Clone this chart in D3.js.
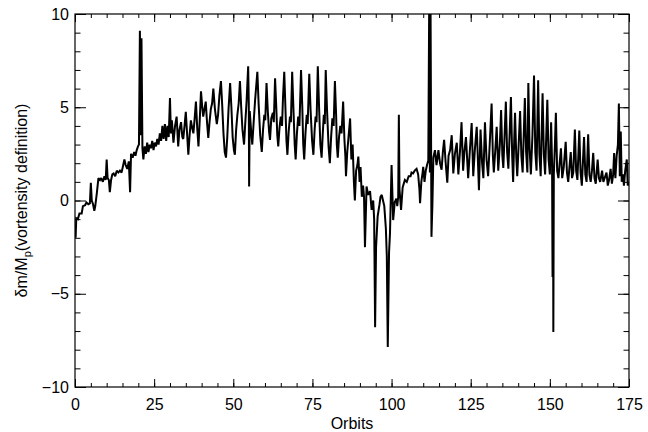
<!DOCTYPE html>
<html>
<head>
<meta charset="utf-8">
<script src="https://cdn.jsdelivr.net/npm/d3@7"></script>
<style>
  body { margin: 0; background: #fff; }
  text { font-family: "Liberation Sans", Arial, sans-serif; fill: #000; }
</style>
</head>
<body>
<svg id="chart" width="648" height="432"></svg>
<script>
// Data: [orbit, dm/Mp], split in pieces
var rampUp = [[0.2,-2.0],[0.4,-0.95],[0.9,-1.0],[1.4,-0.7],[2.1,-0.7],[2.5,-0.3],[3.2,-0.25],[3.6,-0.1],[4.2,-0.2],[4.7,-0.15],
  [5.0,0.95],[5.3,0.0],[5.7,-0.2],[6.1,-0.55],[6.4,-0.3],[6.9,0.4],[7.4,1.2],[7.9,1.1],[8.3,1.2],[8.8,1.0],[9.3,1.3],[9.7,1.1],
  [10.0,2.2],[10.3,1.2],[10.7,1.1],[11.0,0.45],[11.4,1.1],[11.8,1.4],[12.2,1.45],[12.7,1.3],[13.2,1.6],[13.7,1.5],[14.2,1.6],
  [14.7,1.5],[15.1,1.8],[15.6,2.2],[16.0,1.9],[16.5,1.7],[17.0,2.1],[17.4,0.45],[17.7,2.5],[18.2,2.3],[18.7,2.6],[19.1,2.4],
  [19.5,2.7],[19.9,2.9],[20.2,3.0],[20.5,9.1],[20.8,3.5],[21.0,8.7],[21.3,2.8],[21.6,2.2],[22.0,2.9],[22.4,2.5],[22.8,3.1],
  [23.2,2.6],[23.6,3.0],[24.0,2.8],[24.4,3.2],[24.8,2.7],[25.2,3.1],[25.6,2.9],[26.0,3.3],[26.4,3.0],[26.8,3.6],[27.2,3.2],
  [27.6,4.0],[28.0,3.3],[28.4,4.1],[28.8,3.2],[29.2,4.0],[29.6,3.4],[30.0,5.5],[30.3,3.6]];

var plateauA = [[30.6,4.3],[31.1,3.1],[31.6,4.0],[32.1,4.5],[32.6,2.9],[33.0,3.8],[33.5,4.2],[33.9,3.4],[34.2,3.3],[34.6,4.0],
  [35.0,4.75],[35.4,3.6],[35.8,2.45],[36.2,3.5],[36.6,4.3],[37.0,3.9],[37.4,3.6],[37.8,4.4],[38.2,5.3],[38.6,3.9],[39.0,2.9],
  [39.4,4.3],[39.8,5.85],[40.2,5.0],[40.5,4.5],[40.9,4.9],[41.3,5.3],[41.7,4.2],[42.1,3.35],[42.5,4.2],[42.9,4.9],[43.3,5.2],
  [43.7,6.0],[44.2,4.9],[44.8,4.1],[45.2,4.6],[45.6,5.6],[46.1,6.4],[46.5,5.1],[46.9,3.6],[47.3,2.6],[47.7,2.3],[48.1,3.4],
  [48.5,4.9],[49.0,6.3],[49.4,5.0],[49.8,3.4],[50.2,2.7],[50.5,2.45],[50.9,3.8],[51.3,4.6],[51.7,5.2],[52.1,6.4],[52.5,5.0],
  [52.9,3.8],[53.4,3.0],[53.8,4.2],[54.2,5.3],[54.7,7.2],[54.9,5.2],[55.0,0.75],[55.2,4.8],[55.6,3.8],[56.0,3.0],[56.4,4.1],
  [56.9,5.4],[57.6,6.9]];

var plateauB = [[58.0,5.2],[58.5,3.5],[59.0,2.6],[59.4,3.8],[59.8,4.6],[60.1,4.3],[60.5,6.3],[60.9,4.8],[61.3,3.7],[61.6,3.25],
  [62.0,4.4],[62.5,4.7],[62.8,4.2],[63.2,6.55],[63.6,4.9],[63.9,3.5],[64.2,2.9],[64.6,3.9],[65.0,4.5],[65.4,4.0],[65.7,5.5],
  [66.1,6.9],[66.5,4.8],[66.8,3.2],[67.1,2.45],[67.5,3.7],[67.9,4.5],[68.2,4.2],[68.6,6.9],[69.0,4.9],[69.4,3.0],[69.7,2.2],
  [70.1,3.6],[70.5,4.5],[70.9,4.0],[71.4,7.0],[71.8,5.0],[72.1,3.0],[72.4,2.2],[72.8,3.6],[73.2,4.6],[73.5,4.1],[74.0,6.8],
  [74.4,4.9],[74.9,3.2],[75.3,2.45],[75.7,3.8],[76.0,4.5],[76.3,4.2],[76.7,7.2],[77.1,5.0],[77.5,3.0],[77.9,2.3],[78.3,3.7],
  [78.6,4.6],[78.9,4.1],[79.2,7.0],[79.6,4.9],[80.1,2.9],[80.5,2.0],[80.9,3.4],[81.3,4.4],[81.7,4.0],[82.1,6.4],[82.5,4.5],
  [82.7,3.0],[83.0,2.3],[83.4,3.4],[83.8,4.0],[84.2,3.6],[84.7,5.3],[85.1,3.3],[85.4,2.4],[85.6,1.3],[86.0,2.6],[86.4,3.4],
  [86.9,4.4]];

var dipZone = [[87.3,2.2],[87.7,3.0],[88.1,1.0],[88.4,0.0],[88.8,1.6],[89.2,1.9],[89.5,2.35],[89.9,1.0],[90.2,1.8],[90.6,0.2],
  [91.0,0.8],[91.3,0.2],[91.6,-2.5],[92.1,0.75],[92.6,0.3],[93.2,0.5],[93.7,-0.5],[94.2,0.0],[94.5,-1.0],[94.8,-6.8],[95.1,-2.5],
  [95.6,-0.85],[96.2,-0.2],[96.5,0.2],[96.9,0.3],[97.3,0.0],[97.7,-0.3],[98.2,-1.5],[98.5,-3.0],[98.8,-7.85],[99.2,-2.8],
  [99.5,-1.75],[100.0,1.9],[100.5,-1.05],[101.0,-0.1],[101.5,0.1],[101.8,-0.3],[102.1,0.2],[102.3,4.6],[102.5,0.6],[103.0,-0.5],
  [103.5,0.7],[104.2,1.1],[104.8,1.0],[105.4,1.3],[106.0,1.3],[106.3,1.5],[106.8,1.45],[107.3,1.6],[107.9,1.7],[108.4,1.4],
  [108.8,0.6],[109.0,-0.15],[109.4,1.0],[109.8,1.5],[110.0,1.8],[110.4,1.0],[110.8,1.6],[111.2,1.9],[111.6,2.15],[111.9,11],
  [112.1,1.5],[112.3,11],[112.6,-1.95],[112.9,-0.2],[113.2,2.3]];

var secondHump = [[113.7,2.7],[114.2,1.9],[114.8,2.7],[115.3,2.0],[115.8,1.65],[116.2,2.6],[116.6,3.25],[117.1,2.0],[117.6,0.95],
  [118.0,2.4],[118.5,2.7],[119.0,3.5],[119.5,1.45],[120.0,2.5],[120.6,3.1],[121.1,1.4],[121.6,2.6],[122.1,4.2],[122.6,1.6],
  [123.0,2.6],[123.5,3.4],[124.2,1.2],[124.7,2.6],[125.3,4.15],[125.8,1.3],[126.3,2.7],[126.9,3.95],[127.6,0.55],[128.1,3.8],
  [128.6,2.0],[129.0,1.2],[129.5,4.2],[130.0,2.2],[130.5,1.3],[131.0,3.0],[131.6,5.2],[132.0,2.4],[132.3,1.5],[132.8,2.8],
  [133.2,3.95],[133.7,1.6],[134.2,3.0],[134.6,4.85],[135.0,2.4],[135.3,1.75],[135.7,3.5],[136.1,5.3],[136.5,2.6],[136.9,1.7],
  [137.3,3.6],[137.7,5.55],[138.1,2.4],[138.4,1.0],[138.7,3.0],[139.0,4.7],[139.4,2.3],[139.7,1.3],[140.2,3.2],[140.6,4.8],
  [141.0,2.4],[141.4,1.5],[141.8,3.8],[142.1,5.5],[142.5,2.6],[142.9,1.5],[143.2,6.3],[143.6,2.8],[144.0,1.4],[144.5,3.5],
  [145.0,6.7],[145.4,2.6],[145.8,1.6],[146.3,6.45],[146.7,2.5],[147.1,1.3],[147.7,5.75],[148.1,2.5],[148.5,1.4],[149.2,5.4],
  [149.6,2.2],[150.0,1.4],[150.4,4.2],[150.7,2.0],[150.85,-4.1],[151.0,1.6],[151.1,-7.05],[151.25,1.4],[151.6,3.0],[151.9,4.7],
  [152.3,1.6],[152.7,1.2]];

var tail = [[153.1,2.0],[153.5,2.8],[153.9,1.2],[154.4,1.8],[155.0,3.15],[155.4,1.5],[155.8,1.0],[156.2,1.8],[156.6,2.6],
  [157.0,1.2],[157.4,1.5],[157.9,3.8],[158.3,1.6],[158.7,1.1],[159.3,3.75],[159.7,1.5],[160.1,0.8],[160.8,3.4],[161.2,1.4],
  [161.6,1.0],[162.1,3.55],[162.5,1.4],[162.9,1.0],[163.3,1.6],[163.7,2.55],[164.1,1.2],[164.5,0.9],[165.1,2.2],[165.5,1.2],
  [165.9,1.0],[166.5,1.6],[166.9,1.0],[167.3,1.2],[167.9,1.5],[168.3,0.8],[168.7,1.1],[169.2,1.7],[169.6,0.9],[170.0,1.4],
  [170.3,2.55],[170.7,1.2],[171.1,2.4],[171.5,3.0],[171.8,5.2],[172.1,1.3],[172.4,3.7],[172.7,1.0],[173.1,1.4],[173.4,0.8],
  [173.8,1.6],[174.3,2.2],[174.6,0.8],[175.0,1.0]];

var series = rampUp.concat(plateauA, plateauB, dipZone, secondHump, tail);

// Ticks
var xMajor = [0, 25, 50, 75, 100, 125, 150, 175];
var xMinor = d3.range(0, 176, 5);
var yMajor = [-10, -5, 0, 5, 10];
var yMinor = d3.range(-10, 11, 1);
var yTickLabels = ["\u221210", "\u22125", "0", "5", "10"];

var svg = d3.select("#chart"),
    margin = {top: 14, right: 19, bottom: 45, left: 75},
    W = +svg.attr("width"),
    H = +svg.attr("height");

var x = d3.scaleLinear().domain([0, 175]).range([margin.left, W - margin.right]);
var y = d3.scaleLinear().domain([-10, 10]).range([H - margin.bottom, margin.top]);

svg.append("rect").attr("width", W).attr("height", H).attr("fill", "#fff");

svg.append("clipPath").attr("id", "plotClip")
    .append("rect")
    .attr("x", x(0)).attr("y", y(10))
    .attr("width", x(175) - x(0)).attr("height", y(-10) - y(10));

// the curve
var line = d3.line()
    .x(function (d) { return x(d[0]); })
    .y(function (d) { return y(d[1]); });

svg.append("path")
    .datum(series)
    .attr("clip-path", "url(#plotClip)")
    .attr("d", line)
    .attr("fill", "none")
    .attr("stroke", "#000")
    .attr("stroke-width", 2)
    .attr("stroke-linejoin", "miter")
    .attr("stroke-miterlimit", 2);

// axes: ticks inward on all four sides
function noDomain(g) { g.select(".domain").remove(); }

svg.append("g").attr("transform", "translate(0," + y(-10) + ")")
    .call(d3.axisBottom(x).tickValues(xMinor).tickSize(-4).tickFormat(""))
    .call(noDomain);
svg.append("g").attr("transform", "translate(0," + y(-10) + ")")
    .call(d3.axisBottom(x).tickValues(xMajor).tickSize(-8).tickPadding(12).tickFormat(d3.format("d")))
    .call(noDomain);
svg.append("g").attr("transform", "translate(0," + y(10) + ")")
    .call(d3.axisTop(x).tickValues(xMinor).tickSize(-4).tickFormat(""))
    .call(noDomain);
svg.append("g").attr("transform", "translate(0," + y(10) + ")")
    .call(d3.axisTop(x).tickValues(xMajor).tickSize(-8).tickFormat(""))
    .call(noDomain);

svg.append("g").attr("transform", "translate(" + x(0) + ",0)")
    .call(d3.axisLeft(y).tickValues(yMinor).tickSize(-5.5).tickFormat(""))
    .call(noDomain);
svg.append("g").attr("transform", "translate(" + x(0) + ",0)")
    .call(d3.axisLeft(y).tickValues(yMajor).tickSize(-11).tickPadding(6)
        .tickFormat(function (d, i) { return yTickLabels[i]; }))
    .call(noDomain);
svg.append("g").attr("transform", "translate(" + x(175) + ",0)")
    .call(d3.axisRight(y).tickValues(yMinor).tickSize(-5.5).tickFormat(""))
    .call(noDomain);
svg.append("g").attr("transform", "translate(" + x(175) + ",0)")
    .call(d3.axisRight(y).tickValues(yMajor).tickSize(-11).tickFormat(""))
    .call(noDomain);

svg.selectAll(".tick line").attr("stroke", "#000").attr("stroke-width", 1);
svg.selectAll(".tick text")
    .style("font-family", "'Liberation Sans', Arial, sans-serif")
    .style("font-size", "16px")
    .attr("fill", "#000");

// frame
svg.append("rect")
    .attr("x", x(0)).attr("y", y(10))
    .attr("width", x(175) - x(0)).attr("height", y(-10) - y(10))
    .attr("fill", "none").attr("stroke", "#000").attr("stroke-width", 1.2);

// titles
svg.append("text")
    .attr("x", (x(0) + x(175)) / 2)
    .attr("y", 429)
    .attr("text-anchor", "middle")
    .style("font-size", "16px")
    .text("Orbits");

var yt = svg.append("text")
    .attr("transform", "translate(27," + ((y(10) + y(-10)) / 2) + ") rotate(-90)")
    .attr("text-anchor", "middle")
    .style("font-size", "16px");
yt.append("tspan").text("\u03b4m/M");
yt.append("tspan").attr("dy", 4).style("font-size", "11px").text("p");
yt.append("tspan").attr("dy", -4).text("(vortensity definition)");
</script>
</body>
</html>
